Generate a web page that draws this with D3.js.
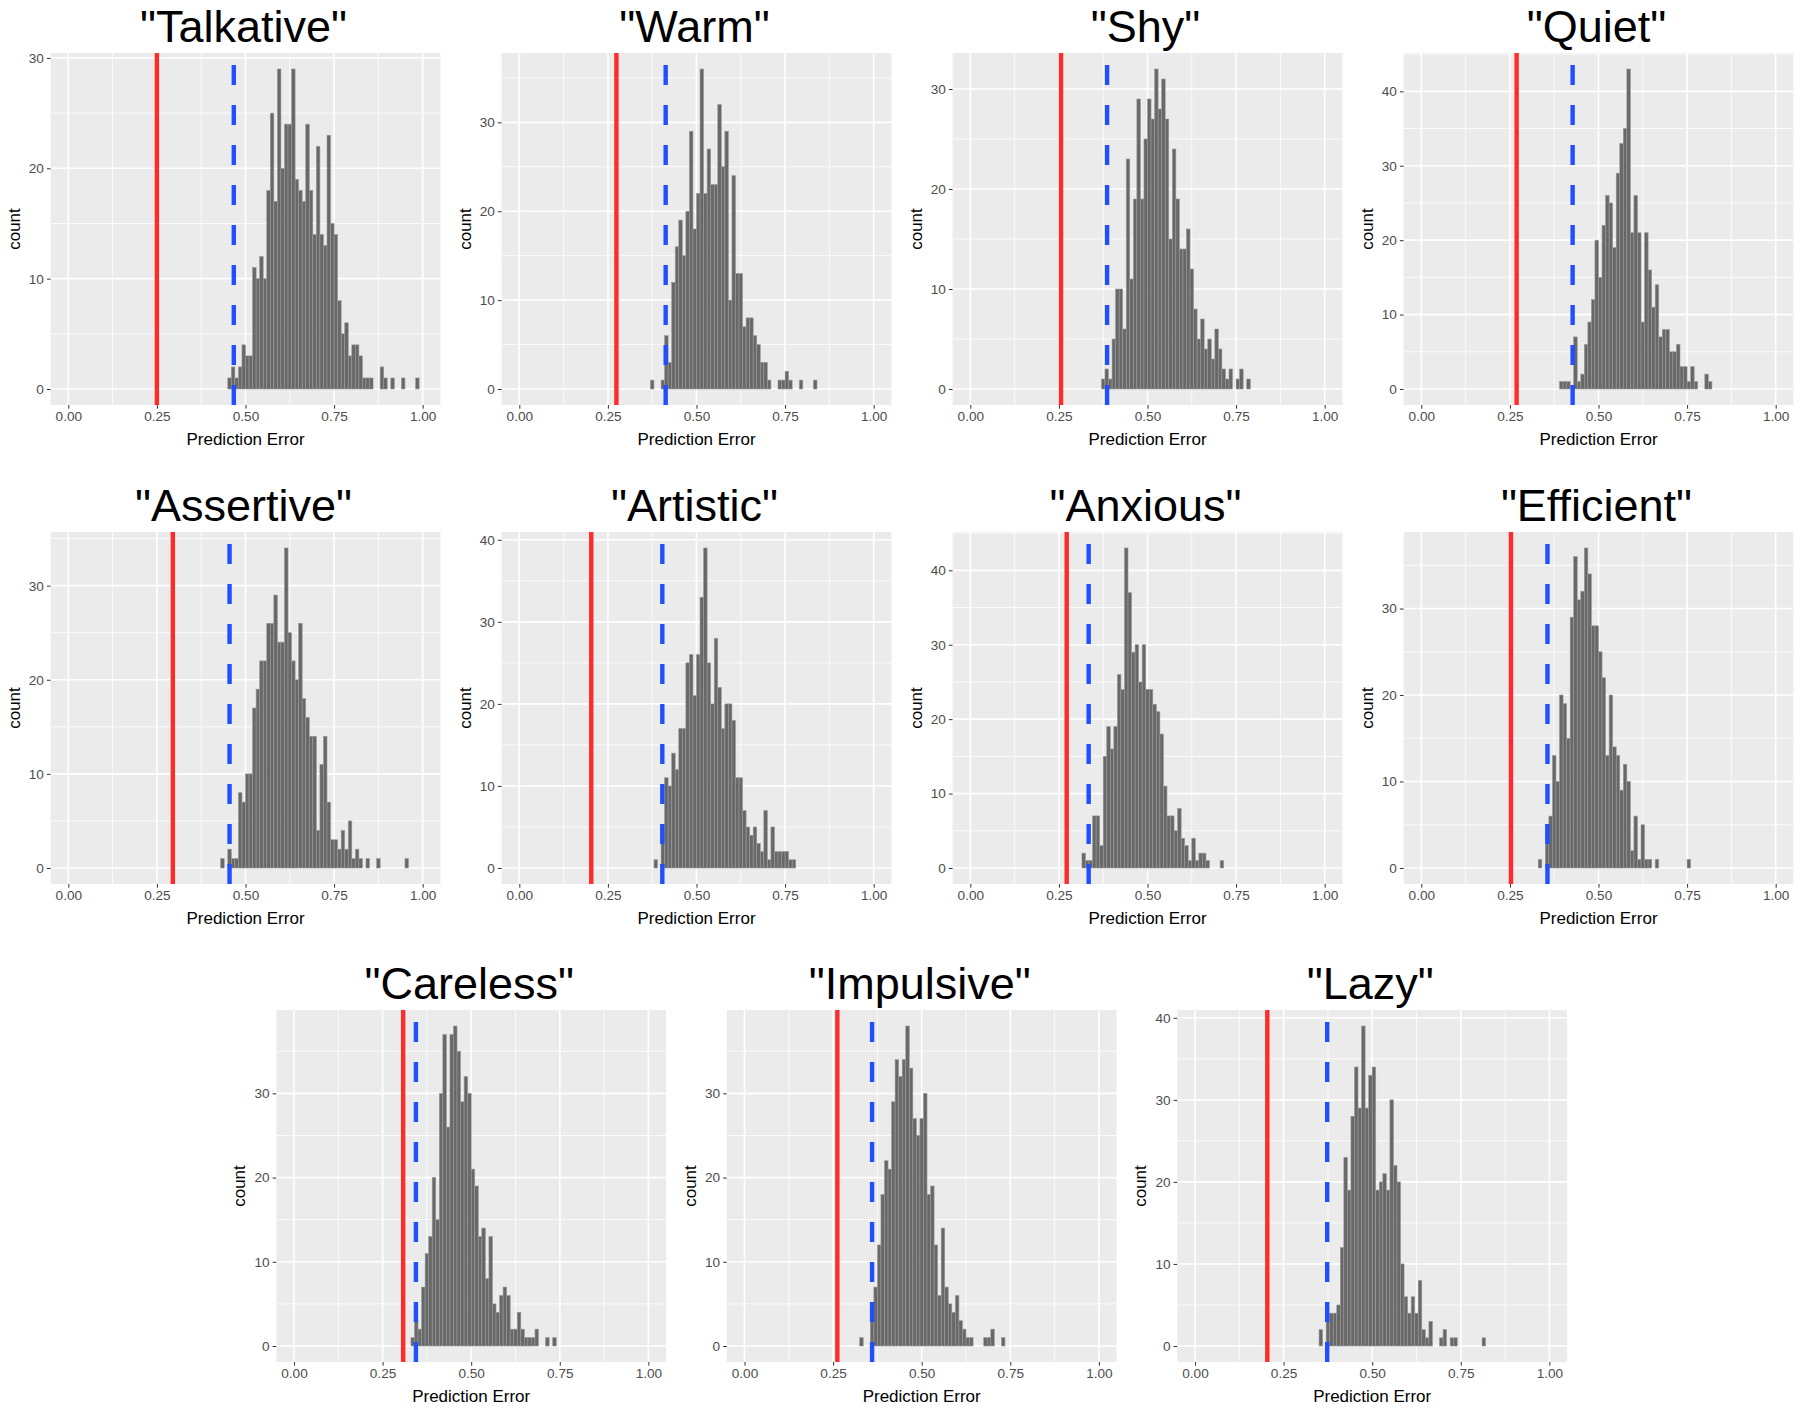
<!DOCTYPE html>
<html><head><meta charset="utf-8">
<script src="https://cdn.jsdelivr.net/npm/d3@7"></script>
<style>body{margin:0;background:#fff}svg{display:block}</style>
</head><body>
<svg id="chart" width="1800" height="1409"></svg>
<script>
// ---------- data ----------
const titles = ['"Talkative"','"Warm"','"Shy"','"Quiet"','"Assertive"','"Artistic"','"Anxious"','"Efficient"','"Careless"','"Impulsive"','"Lazy"'];
const binWidth = 0.01;
const binStarts = [0.45, 0.37, 0.37, 0.39, 0.43, 0.38, 0.315, 0.33, 0.33, 0.325, 0.35];
const countsTalkative = [1,2,1,2,4,3,3,11,10,12,10,18,25,17,29,20,24,24,29,19,18,17,24,18,14,22,14,13,23,15,14,8,5,6,3,4,4,3,1,1,1,0,0,2,1,0,1,0,0,1,0,0,0,1];
const countsWarm = [1,0,0,1,6,3,12,16,19,15,20,29,18,22,36,22,27,23,23,32,25,29,10,24,13,13,7,8,8,6,5,3,3,1,0,0,1,1,2,1,0,0,1,0,0,0,1];
const countsShy = [1,2,1,5,10,10,6,23,11,19,29,19,25,29,27,32,28,31,27,15,24,19,14,14,16,12,8,5,7,4,5,3,6,4,2,1,2,0,1,2,0,1];
const countsQuiet = [1,1,1,0,7,1,2,6,9,12,20,15,22,26,25,19,29,33,35,43,21,26,21,9,21,16,11,14,7,8,8,5,5,6,3,3,1,3,1,0,0,2,1];
const countsAssertive = [1,0,2,1,1,8,7,10,10,17,19,22,22,26,26,29,24,24,34,25,22,20,26,18,16,14,14,4,11,14,7,3,3,2,4,2,5,1,2,1,0,1,0,0,1,0,0,0,0,0,0,0,1];
const countsArtistic = [1,0,5,11,10,14,12,17,17,25,26,21,26,33,39,25,20,28,22,17,20,20,18,11,11,7,5,4,5,3,2,7,1,5,2,2,2,2,1,1];
const countsAnxious = [2,1,1,7,7,3,15,19,16,19,26,24,43,37,29,30,25,30,24,24,22,21,18,11,7,7,5,8,4,3,1,4,1,2,2,1,0,0,0,1];
const countsEfficient = [1,0,5,6,13,10,20,19,15,29,36,31,32,37,34,28,28,25,22,13,20,14,13,9,12,10,2,6,1,5,1,1,0,1,0,0,0,0,0,0,0,0,1];
const countsCareless = [1,3,2,7,11,13,20,15,30,37,26,37,38,35,29,32,30,21,19,13,14,8,13,5,4,6,7,6,2,2,4,2,1,1,1,2,0,0,1,0,1];
const countsImpulsive = [1,0,0,5,7,12,18,22,21,29,34,32,34,38,33,27,25,27,30,18,19,12,6,14,7,5,4,6,3,2,1,1,0,0,0,1,1,2,0,0,1];
const countsLazy = [2,0,4,4,4,5,12,23,19,28,34,29,39,29,33,34,19,20,21,19,30,22,20,10,6,4,6,4,8,2,1,3,0,0,1,2,0,1,1,0,0,0,0,0,0,0,1];
const allCounts = [countsTalkative,countsWarm,countsShy,countsQuiet,countsAssertive,countsArtistic,countsAnxious,countsEfficient,countsCareless,countsImpulsive,countsLazy];
const redLines = [0.25, 0.274, 0.256, 0.269, 0.295, 0.203, 0.272, 0.253, 0.308, 0.262, 0.204];
const blueLines = [0.467, 0.413, 0.386, 0.427, 0.455, 0.4035, 0.334, 0.356, 0.344, 0.360, 0.373];
const xTickValues = [0, 0.25, 0.5, 0.75, 1];
const xMinorValues = [0.125, 0.375, 0.625, 0.875];
const xLabel = "Prediction Error";
const yLabel = "count";

// ---------- layout ----------
const W = 389.8, H = 352;
const panelPos = [
  [50.6,53],[501.6,53],[952.6,53],[1403.6,53],
  [50.6,532],[501.6,532],[952.6,532],[1403.6,532],
  [276.3,1010],[726.8,1010],[1177.3,1010]
];
const FONT = '"Liberation Sans", Arial, Helvetica, sans-serif';
const svg = d3.select("#chart");

titles.forEach((title, p) => {
  const [left, top] = panelPos[p];
  const counts = allCounts[p];
  const M = d3.max(counts);
  const x = d3.scaleLinear().domain([-0.05, 1.05]).range([0, W]);
  const y = d3.scaleLinear().domain([-0.05 * M, 1.05 * M]).range([H, 0]);
  const g = svg.append("g").attr("transform", `translate(${left},${top})`);

  g.append("rect").attr("width", W).attr("height", H).attr("fill", "#EBEBEB");

  const yMajor = d3.range(0, 1.05 * M + 1e-9, 10);
  const yMinor = d3.range(5, 1.05 * M + 1e-9, 10);

  // minor grid
  g.selectAll(".xmin").data(xMinorValues).enter().append("line")
    .attr("x1", d => x(d)).attr("x2", d => x(d)).attr("y1", 0).attr("y2", H)
    .attr("stroke", "#fff").attr("stroke-width", 0.8);
  g.selectAll(".ymin").data(yMinor).enter().append("line")
    .attr("y1", d => y(d)).attr("y2", d => y(d)).attr("x1", 0).attr("x2", W)
    .attr("stroke", "#fff").attr("stroke-width", 0.8);
  // major grid
  g.selectAll(".xmaj").data(xTickValues).enter().append("line")
    .attr("x1", d => x(d)).attr("x2", d => x(d)).attr("y1", 0).attr("y2", H)
    .attr("stroke", "#fff").attr("stroke-width", 1.6);
  g.selectAll(".ymaj").data(yMajor).enter().append("line")
    .attr("y1", d => y(d)).attr("y2", d => y(d)).attr("x1", 0).attr("x2", W)
    .attr("stroke", "#fff").attr("stroke-width", 1.6);

  // bars
  const bins = counts.map((c, i) => ({x0: binStarts[p] + i * binWidth, c}));
  g.selectAll(".bar").data(bins.filter(b => b.c > 0)).enter().append("rect")
    .attr("x", d => x(d.x0))
    .attr("width", d => x(d.x0 + binWidth) - x(d.x0))
    .attr("y", d => y(d.c))
    .attr("height", d => y(0) - y(d.c))
    .attr("fill", "#686868")
    .attr("stroke", "#9a9a9a")
    .attr("stroke-width", 0.6);

  // reference lines
  g.append("line").attr("x1", x(redLines[p])).attr("x2", x(redLines[p]))
    .attr("y1", H).attr("y2", 0).attr("stroke", "#FF2B2B").attr("stroke-width", 4.4);
  g.append("line").attr("x1", x(blueLines[p])).attr("x2", x(blueLines[p]))
    .attr("y1", H).attr("y2", 0).attr("stroke", "#1F4FFF").attr("stroke-width", 4.4)
    .attr("stroke-dasharray", "20,20");

  // axes
  const yAxis = d3.axisLeft(y).tickValues(yMajor).tickFormat(d3.format("d"))
    .tickSize(3.7).tickPadding(3);
  const ya = g.append("g").call(yAxis);
  const xAxis = d3.axisBottom(x).tickValues(xTickValues).tickFormat(d3.format(".2f"))
    .tickSize(3.7).tickPadding(3);
  const xa = g.append("g").attr("transform", `translate(0,${H})`).call(xAxis);
  [ya, xa].forEach(a => {
    a.select(".domain").remove();
    a.selectAll(".tick line").attr("stroke", "#333").attr("stroke-width", 1);
    a.selectAll(".tick text").attr("fill", "#4D4D4D").style("font-family", FONT).style("font-size", "13.6px");
  });

  // axis titles
  g.append("text").attr("x", W / 2).attr("y", H + 40)
    .attr("text-anchor", "middle").style("font-family", FONT).style("font-size", "17px")
    .attr("fill", "#000").text(xLabel);
  g.append("text").attr("transform", `translate(-31,${H / 2}) rotate(-90)`)
    .attr("text-anchor", "middle").style("font-family", FONT).style("font-size", "17px")
    .attr("fill", "#000").text(yLabel);

  // panel title
  g.append("text").attr("x", W / 2 - 2).attr("y", -11)
    .attr("text-anchor", "middle").style("font-family", FONT).style("font-size", "45px")
    .attr("fill", "#000").text(title);
});
</script>
</body></html>
